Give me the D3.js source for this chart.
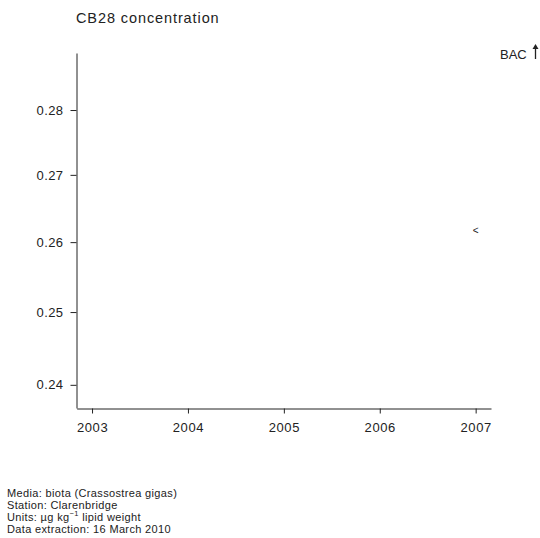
<!DOCTYPE html>
<html>
<head>
<meta charset="utf-8">
<script src="https://cdn.jsdelivr.net/npm/d3@7"></script>
<style>
  html, body { margin: 0; padding: 0; background: #fff; }
  svg { display: block; font-family: "Liberation Sans", Arial, sans-serif; }
</style>
</head>
<body>
<svg id="chart" width="540" height="538"></svg>
<script>
// Annual CB28 concentration (less-than values flagged with "<")
const years = [2007];
const values = [0.2617];
const flags = ["<"];

// Axis tick labels
const xTicks = [2003, 2004, 2005, 2006, 2007];
const yTicks = [0.24, 0.25, 0.26, 0.27, 0.28];

// Footer information lines
const footerLines = [
  "Media: biota (Crassostrea gigas)",
  "Station: Clarenbridge",
  null, // units line, built with superscript
  "Data extraction: 16 March 2010"
];

const svg = d3.select("#chart");
const ink = "#222";

const x = d3.scaleLinear().domain([2002.84, 2007.16]).range([76.7, 491]);
const y = d3.scaleLog().domain([0.2369, 0.2891]).range([408, 53]);

// Title
svg.append("text")
  .attr("x", 76).attr("y", 23)
  .attr("font-size", 14.5).attr("letter-spacing", 0.9).attr("fill", ink)
  .text("CB28 concentration");

// Y axis
const yAxis = svg.append("g")
  .attr("transform", "translate(76.5,0)")
  .call(d3.axisLeft(y).tickValues(yTicks).tickFormat(d3.format(".2f")).tickSize(6).tickSizeOuter(0).tickPadding(7));
yAxis.select(".domain").attr("stroke", ink);
yAxis.selectAll(".tick line").attr("stroke", ink);
yAxis.selectAll(".tick text").attr("font-size", 13).attr("letter-spacing", 0.4).attr("fill", ink)
  .attr("font-family", "Liberation Sans, Arial, sans-serif");

// X axis
const xAxis = svg.append("g")
  .attr("transform", "translate(0,408.5)")
  .call(d3.axisBottom(x).tickValues(xTicks).tickFormat(d3.format("d")).tickSize(5).tickSizeOuter(0).tickPadding(9));
xAxis.select(".domain").attr("stroke", ink);
xAxis.selectAll(".tick line").attr("stroke", ink);
xAxis.selectAll(".tick text").attr("font-size", 13).attr("letter-spacing", 0.6).attr("fill", ink)
  .attr("font-family", "Liberation Sans, Arial, sans-serif");

// Data markers
svg.selectAll("text.pt")
  .data(years.map((yr, i) => ({ yr, v: values[i], f: flags[i] })))
  .join("text")
  .attr("class", "pt")
  .attr("x", d => x(d.yr))
  .attr("y", d => y(d.v))
  .attr("dy", "0.35em")
  .attr("text-anchor", "middle")
  .attr("font-size", 10)
  .attr("fill", ink)
  .text(d => d.f);

// BAC reference label with upward arrow
svg.append("text")
  .attr("x", 500).attr("y", 59)
  .attr("font-size", 13).attr("fill", ink)
  .text("BAC");
svg.append("line")
  .attr("x1", 535.5).attr("x2", 535.5).attr("y1", 46).attr("y2", 59)
  .attr("stroke", ink).attr("stroke-width", 1.3);
svg.append("path")
  .attr("d", "M532.5,49 L535.5,44 L538.5,49 Z")
  .attr("fill", ink);

// Footer
const footer = svg.append("g").attr("font-size", 11).attr("letter-spacing", 0.35).attr("fill", ink);
footerLines.forEach((line, i) => {
  const t = footer.append("text").attr("x", 7).attr("y", 496.5 + i * 12.1);
  if (line !== null) {
    t.text(line);
  } else {
    t.append("tspan").text("Units: \u00b5g kg");
    t.append("tspan").attr("dy", -4.5).attr("font-size", 7.5).text("\u22121");
    t.append("tspan").attr("dy", 4.5).text(" lipid weight");
  }
});
</script>
</body>
</html>
